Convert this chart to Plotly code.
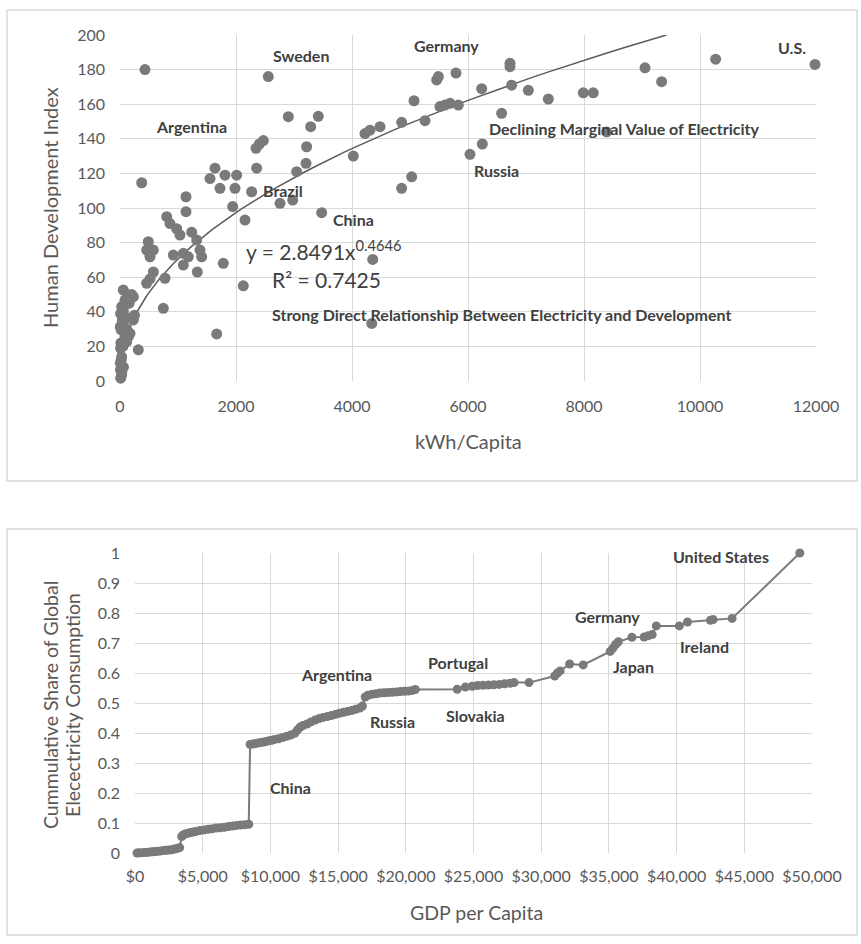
import numpy as np
import plotly.graph_objects as go

# ---------------- Electricity use vs. Human Development Index ----------------
kwh_per_capita = [
    57, 143, 230, 86, 29, 10, 5, 20, 86, 172, 230, 115, 10, 29, 5, 8, 29, 12,
    172, 57, 143, 40, 60, 100, 15, 50, 20, 30, 60, 160, 200, 250, 115,
    316, 747, 460, 575, 776, 518, 488, 575, 517, 460, 919, 1092, 1092, 1178,
    1236, 1322, 1379, 1408, 1333, 805, 862, 977, 1034, 1138, 1138, 374, 431,
    1638, 1552, 1724, 1810, 2011, 1983, 1943, 2270, 2155, 2759, 2977, 3477,
    1781, 2126, 1667, 2557, 2902, 3419, 3287, 2471, 2402, 2345, 3218, 2356,
    3207, 3046, 4023, 4224, 4310, 4483, 4357, 4340, 4856, 5259, 5069, 5460,
    5489, 5793, 5517, 5603, 5690, 5833, 6236, 6724, 6724, 6753, 7040, 7385,
    7988, 8160, 9052, 9339, 10270, 11983, 6580, 6034, 6247, 4856, 5029, 8391,
]
hdi = [
    52.6, 49.7, 48.7, 46.8, 43, 39, 31.4, 29.5, 25.6, 27.5, 35.3, 22.7, 18.9,
    14, 10.2, 6.4, 3.5, 1.6, 48.7, 41, 25.6, 35, 33, 37, 22, 20, 12, 5, 8, 45,
    50, 38, 30,
    18, 42, 56.5, 63, 59.4, 59, 80.5, 75.7, 71.8, 75.7, 72.8, 73.8, 67, 71.8,
    86, 81.5, 75.7, 71.8, 63, 95, 91, 88, 84.4, 106.5, 97.9, 114.6, 180,
    123, 117, 111.4, 119, 119, 111.4, 100.8, 109.4, 93, 102.7, 104.6, 97.3,
    68, 55, 27.2, 176, 152.8, 153, 147, 139, 137, 134.5, 135.4, 123,
    125.8, 121, 130, 143, 145, 147, 70.3, 33.3, 149.5, 150.5, 162, 174,
    176, 178, 158.6, 159.5, 160.5, 159.5, 169, 183.6, 181.7, 171, 168, 163,
    166.6, 166.6, 181, 173, 186, 183, 154.7, 131, 137, 111.4, 118, 144,
]

# Power-law fit shown on the chart: y = 2.8491 x^0.4646
fit_a, fit_b = 2.8491, 0.4646
hdi_max = 200
x_top = (hdi_max / fit_a) ** (1 / fit_b)
fit_x = np.geomspace(3, x_top, 200)
fit_y = fit_a * fit_x ** fit_b

top_labels = ["Sweden", "Argentina", "Germany", "U.S.",
              "Declining Marginal Value of Electricity", "Russia", "China",
              "Brazil", "Strong Direct Relationship Between Electricity and Development"]
top_label_x = [3121, 1233, 5633, 11580, 8690, 6495, 4023, 2802, 6569]
top_label_y = [188, 147, 193.8, 193, 146, 121.6, 93.5, 110.4, 38.2]

# ---------------- Cumulative electricity share vs. GDP per capita ----------------
gdp_per_capita = [
    150, 300, 500, 700, 900, 1100, 1300, 1500, 1700, 1900, 2100, 2300, 2500,
    2700, 2900, 3100, 3300,
    3450, 3550, 3700, 3900, 4100, 4300, 4500, 4800, 5100, 5400, 5700, 6000,
    6300, 6600, 6900, 7200, 7500, 7800, 8100, 8400,
    8500, 8700, 8900, 9100, 9300, 9500, 9700, 9900, 10100, 10300, 10600,
    10900, 11200, 11500, 11800, 12000, 12200, 12400, 12700, 13000, 13300,
    13600, 13900, 14200, 14500, 14800, 15100, 15400, 15700, 16000, 16300,
    16600, 16800,
    17000, 17200, 17500, 17800, 18100, 18400, 18700, 19000, 19300, 19600,
    19900, 20200, 20500, 20700,
    23800, 24400, 24900, 25300, 25700, 26100, 26500, 26900, 27300, 27700,
    28000, 29100,
    31000, 31200, 31400, 32100, 33100, 35100, 35300, 35500, 35700, 36700,
    37600, 37900, 38200, 38500, 40200, 40800, 42500, 42700, 44100, 49100,
]
cum_share = [
    0.000, 0.001, 0.001, 0.002, 0.002, 0.003, 0.004, 0.005, 0.006, 0.007,
    0.008, 0.009, 0.010, 0.011, 0.013, 0.015, 0.018,
    0.055, 0.060, 0.063, 0.066, 0.068, 0.070, 0.072, 0.075, 0.077, 0.079,
    0.081, 0.083, 0.084, 0.086, 0.088, 0.090, 0.092, 0.093, 0.094, 0.096,
    0.362, 0.363, 0.365, 0.367, 0.368, 0.370, 0.372, 0.374, 0.376, 0.378,
    0.381, 0.385, 0.389, 0.393, 0.399, 0.410, 0.420, 0.425, 0.430, 0.437,
    0.443, 0.448, 0.452, 0.455, 0.458, 0.462, 0.466, 0.469, 0.472, 0.475,
    0.479, 0.483, 0.490,
    0.520, 0.526, 0.529, 0.531, 0.533, 0.534, 0.535, 0.536, 0.537, 0.538,
    0.539, 0.540, 0.542, 0.545,
    0.546, 0.553, 0.556, 0.558, 0.559, 0.560, 0.561, 0.562, 0.564, 0.566,
    0.568, 0.568,
    0.590, 0.600, 0.607, 0.630, 0.627, 0.672, 0.683, 0.695, 0.704, 0.719,
    0.720, 0.724, 0.728, 0.757, 0.757, 0.770, 0.776, 0.778, 0.782, 1.000,
]

kwh_tickvals = [0, 2000, 4000, 6000, 8000, 10000, 12000]
kwh_ticktext = ["0", "2000", "4000", "6000", "8000", "10000", "12000"]
gdp_tickvals = [0, 5000, 10000, 15000, 20000, 25000, 30000, 35000, 40000, 45000, 50000]
gdp_ticktext = ["$0", "$5,000", "$10,000", "$15,000", "$20,000", "$25,000",
                "$30,000", "$35,000", "$40,000", "$45,000", "$50,000"]

bottom_labels = ["United States", "Germany", "Ireland", "Japan", "Portugal",
                 "Argentina", "Russia", "Slovakia", "China", "India"]
bottom_label_x = [43264, 34910, 42045, 36830, 23877, 14897, 19018, 25111, 11507, 6366]
bottom_label_y = [0.988, 0.79, 0.688, 0.623, 0.634, 0.596, 0.438, 0.46, 0.219, -0.001]

# ---------------- figure ----------------
W, H = 861, 944
FONT = "Lato"
TICK_COLOR = "#595959"
LABEL_COLOR = "#404040"
GRID = "#d9d9d9"
DOT = "#7a7a7a"


def px_x(p):
    return p / W


def px_y(p):
    return 1 - p / H


fig = go.Figure()

fig.add_trace(go.Scatter(
    x=fit_x, y=fit_y, mode="lines",
    line=dict(color="#5a5a5a", width=1.5),
    xaxis="x", yaxis="y", hoverinfo="skip", showlegend=False,
))
fig.add_trace(go.Scatter(
    x=kwh_per_capita, y=hdi, mode="markers",
    marker=dict(color=DOT, size=11, line=dict(width=0)),
    xaxis="x", yaxis="y", cliponaxis=False, showlegend=False,
))
fig.add_trace(go.Scatter(
    x=gdp_per_capita, y=cum_share, mode="lines+markers",
    line=dict(color=DOT, width=2),
    marker=dict(color=DOT, size=9, line=dict(width=0)),
    xaxis="x2", yaxis="y2", cliponaxis=False, showlegend=False,
))

axis_common = dict(
    showgrid=True, gridcolor=GRID, gridwidth=1, zeroline=False, showline=False,
    ticks="", automargin=False,
    tickfont=dict(family=FONT, size=16, color=TICK_COLOR),
)

fig.update_layout(
    template="none",
    width=W, height=H,
    margin=dict(l=0, r=0, t=0, b=0),
    paper_bgcolor="white", plot_bgcolor="white",
    font=dict(family=FONT, color=TICK_COLOR),
    xaxis=dict(domain=[px_x(120), px_x(816)], range=[0, 12000],
               tickvals=kwh_tickvals, ticktext=kwh_ticktext,
               anchor="y", ticklabelstandoff=14, **axis_common),
    yaxis=dict(domain=[px_y(381), px_y(35)], range=[0, 200], dtick=20,
               anchor="x", ticklabelstandoff=14, **axis_common),
    xaxis2=dict(domain=[px_x(135), px_x(812)], range=[0, 50000],
                tickvals=gdp_tickvals, ticktext=gdp_ticktext,
                anchor="y2", ticklabelstandoff=12, **axis_common),
    yaxis2=dict(domain=[px_y(853), px_y(553)], range=[0, 1], dtick=0.1,
                anchor="x2", ticklabelstandoff=14, **axis_common),
)

# chart frames
for y0, y1 in [(10, 481), (529, 935)]:
    fig.add_shape(type="rect", xref="paper", yref="paper",
                  x0=px_x(7), x1=px_x(857), y0=px_y(y1), y1=px_y(y0),
                  line=dict(color="#d9d9d9", width=1.5), layer="below")

centered = dict(showarrow=False, xanchor="center", yanchor="middle")

annotations = []
for t, x, y in zip(top_labels, top_label_x, top_label_y):
    annotations.append(dict(text=f"<b>{t}</b>", x=x, y=y, xref="x", yref="y",
                            font=dict(family=FONT, size=16, color=LABEL_COLOR), **centered))
for t, x, y in zip(bottom_labels, bottom_label_x, bottom_label_y):
    annotations.append(dict(text=f"<b>{t}</b>", x=x, y=y, xref="x2", yref="y2",
                            font=dict(family=FONT, size=16, color=LABEL_COLOR), **centered))

# fit equation and R²
annotations.append(dict(text=f"y = {fit_a}x<sup>{fit_b}</sup>", x=3517, y=75.7,
                        xref="x", yref="y",
                        font=dict(family=FONT, size=21, color=LABEL_COLOR), **centered))
annotations.append(dict(text="R² = 0.7425", x=3552, y=58.4, xref="x", yref="y",
                        font=dict(family=FONT, size=21, color=LABEL_COLOR), **centered))

# axis titles
annotations.append(dict(text="Human Development Index", x=px_x(50), y=px_y(208),
                        xref="paper", yref="paper", textangle=-90,
                        font=dict(family=FONT, size=20, color=TICK_COLOR), **centered))
annotations.append(dict(text="kWh/Capita", x=px_x(468), y=px_y(441),
                        xref="paper", yref="paper",
                        font=dict(family=FONT, size=20, color=TICK_COLOR), **centered))
annotations.append(dict(text="Cummulative Share of Global",
                        x=px_x(50), y=px_y(705), xref="paper", yref="paper",
                        textangle=-90,
                        font=dict(family=FONT, size=19.5, color=TICK_COLOR), **centered))
annotations.append(dict(text="Elecectricity Consumption",
                        x=px_x(72), y=px_y(705), xref="paper", yref="paper",
                        textangle=-90,
                        font=dict(family=FONT, size=19.5, color=TICK_COLOR), **centered))
annotations.append(dict(text="GDP per Capita", x=px_x(476), y=px_y(912),
                        xref="paper", yref="paper",
                        font=dict(family=FONT, size=19.5, color=TICK_COLOR), **centered))

fig.update_layout(annotations=annotations)

fig.write_html("out.html")
